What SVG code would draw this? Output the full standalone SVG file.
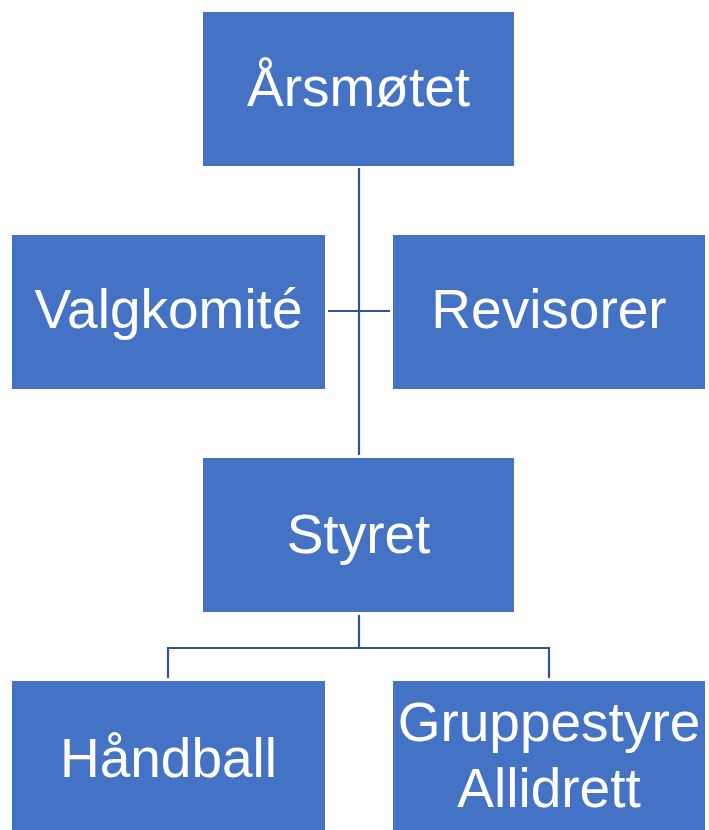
<svg xmlns="http://www.w3.org/2000/svg" width="709" height="830" viewBox="0 0 709 830">
<style>
.box{fill:#4472C4;}
.lbl{fill:#FFFFFF;font-family:"Liberation Sans","DejaVu Sans",sans-serif;font-size:55px;text-anchor:middle;}
.con{stroke:#2F5597;stroke-width:2.2;fill:none;}
</style>
<rect width="709" height="830" fill="#FFFFFF"/>
<g id="connectors">
<line class="con" x1="359" y1="168" x2="359" y2="455"/>
<line class="con" x1="328" y1="311" x2="390" y2="311"/>
<polyline class="con" points="359,615 359,648 168,648 168,678"/>
<polyline class="con" points="359,648 549,648 549,678"/>
</g>
<g id="arsmotet">
<rect class="box" x="203" y="12" width="311" height="154"/>
<text class="lbl" x="358.5" y="106">Årsmøtet</text>
</g>
<g id="valgkomite">
<rect class="box" x="12" y="235" width="313" height="154"/>
<text class="lbl" x="168.5" y="328">Valgkomité</text>
</g>
<g id="revisorer">
<rect class="box" x="393" y="235" width="312" height="154"/>
<text class="lbl" x="549" y="328">Revisorer</text>
</g>
<g id="styret">
<rect class="box" x="203" y="458" width="311" height="154"/>
<text class="lbl" x="358.5" y="553">Styret</text>
</g>
<g id="handball">
<rect class="box" x="12" y="681" width="313" height="149"/>
<text class="lbl" x="168.5" y="777">Håndball</text>
</g>
<g id="gruppestyre">
<rect class="box" x="393" y="681" width="312" height="149"/>
<text class="lbl" x="549" y="741">Gruppestyre</text>
<text class="lbl" x="549" y="807">Allidrett</text>
</g>
</svg>
